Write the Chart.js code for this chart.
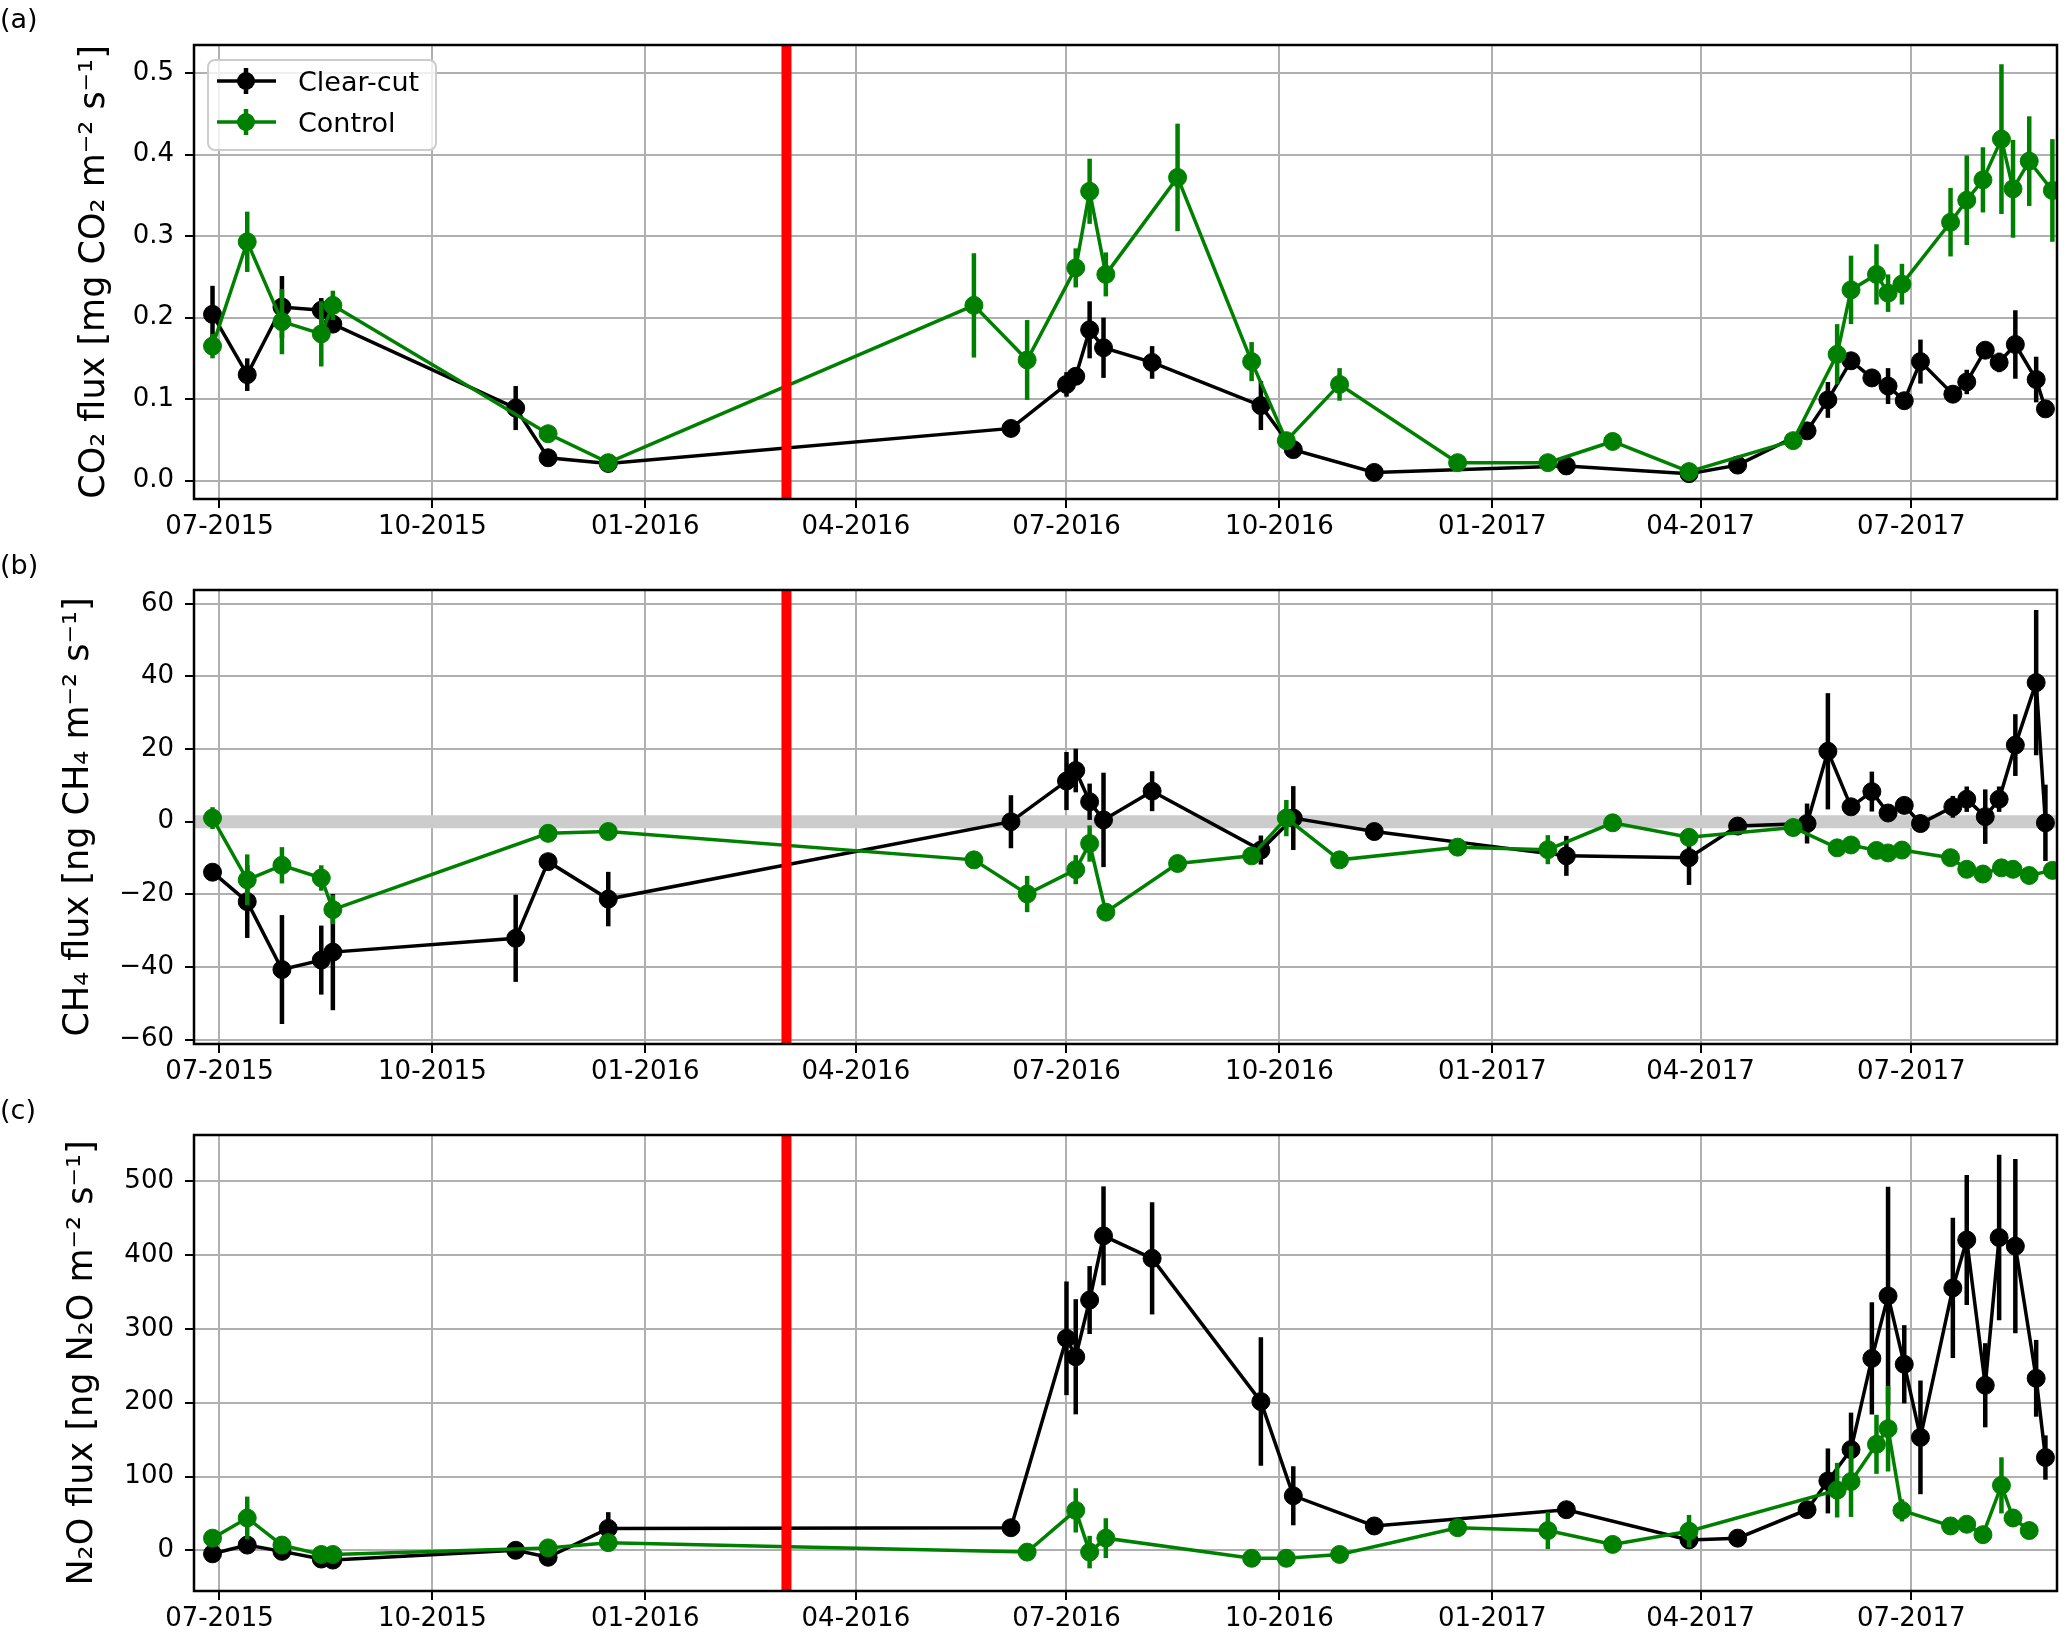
<!DOCTYPE html>
<html>
<head>
<meta charset="utf-8">
<script src="https://cdn.jsdelivr.net/npm/chart.js@4.4.0/dist/chart.umd.min.js"></script>
<style>
    body { margin: 0; background: #ffffff; }
    #wrap { position: relative; width: 2067px; height: 1633px; }
    canvas { position: absolute; left: 0; }
</style>
</head>
<body>
<div id="wrap">
    <canvas id="panel-a" width="2067" height="545" style="top:0px"></canvas>
    <canvas id="panel-b" width="2067" height="545" style="top:545px"></canvas>
    <canvas id="panel-c" width="2067" height="543" style="top:1090px"></canvas>
</div>
<script>
/*
 *  Data
 */

const xTickDates = ['2015-07-01', '2015-10-01', '2016-01-01', '2016-04-01', '2016-07-01',
    '2016-10-01', '2017-01-01', '2017-04-01', '2017-07-01'];
const xTickLabels = ['07-2015', '10-2015', '01-2016', '04-2016', '07-2016',
    '10-2016', '01-2017', '04-2017', '07-2017'];
const harvestDate = '2016-03-02';

const clearCutDates = ['2015-06-28', '2015-07-13', '2015-07-28', '2015-08-14', '2015-08-19', '2015-11-06',
    '2015-11-20', '2015-12-16', '2016-06-07', '2016-07-01', '2016-07-05', '2016-07-11', '2016-07-17',
    '2016-08-07', '2016-09-23', '2016-10-07', '2016-11-11', '2017-02-02', '2017-03-27', '2017-04-17',
    '2017-05-17', '2017-05-26', '2017-06-05', '2017-06-14', '2017-06-21', '2017-06-28', '2017-07-05',
    '2017-07-19', '2017-07-25', '2017-08-02', '2017-08-08', '2017-08-15', '2017-08-24', '2017-08-28'];
const controlDates = ['2015-06-28', '2015-07-13', '2015-07-28', '2015-08-14', '2015-08-19', '2015-11-20',
    '2015-12-16', '2016-05-22', '2016-06-14', '2016-07-05', '2016-07-11', '2016-07-18', '2016-08-18',
    '2016-09-19', '2016-10-04', '2016-10-27', '2016-12-17', '2017-01-25', '2017-02-22', '2017-03-27',
    '2017-05-11', '2017-05-30', '2017-06-05', '2017-06-16', '2017-06-21', '2017-06-27', '2017-07-18',
    '2017-07-25', '2017-08-01', '2017-08-09', '2017-08-14', '2017-08-21', '2017-08-31'];

// (a) CO2
const co2ClearCut = [0.204, 0.130, 0.213, 0.209, 0.192, 0.089, 0.028, 0.021, 0.064, 0.118, 0.128, 0.185,
    0.163, 0.145, 0.092, 0.038, 0.010, 0.018, 0.0085, 0.019, 0.061, 0.099, 0.147, 0.126, 0.116, 0.098,
    0.146, 0.106, 0.121, 0.160, 0.145, 0.167, 0.124, 0.088];
const co2ClearCutErr = [0.035, 0.02, 0.038, 0.015, 0.01, 0.027, 0.005, 0.005, 0.005, 0.015, 0.01, 0.035,
    0.037, 0.02, 0.03, 0.005, 0.003, 0.004, 0.004, 0.004, 0.005, 0.022, 0.008, 0.01, 0.022, 0.008,
    0.027, 0.008, 0.015, 0.01, 0.012, 0.042, 0.028, 0.008];
const co2Control = [0.165, 0.293, 0.195, 0.180, 0.215, 0.0575, 0.022, 0.215, 0.148, 0.261, 0.355, 0.253,
    0.372, 0.146, 0.049, 0.118, 0.022, 0.022, 0.048, 0.011, 0.049, 0.155, 0.234, 0.253, 0.230, 0.241,
    0.317, 0.344, 0.369, 0.419, 0.358, 0.392, 0.356];
const co2ControlErr = [0.015, 0.037, 0.04, 0.04, 0.018, 0.004, 0.004, 0.064, 0.049, 0.024, 0.04, 0.027,
    0.066, 0.024, 0.005, 0.02, 0.004, 0.004, 0.004, 0.004, 0.005, 0.037, 0.042, 0.037, 0.023, 0.025,
    0.042, 0.055, 0.04, 0.092, 0.06, 0.055, 0.063];

// (b) CH4
const ch4ClearCut = [-13.9, -22.0, -40.7, -38.1, -35.9, -32.1, -11.0, -21.3, 0.0, 11.2, 14.1, 5.5, 0.5,
    8.4, -7.8, 1.0, -2.7, -9.4, -9.9, -1.2, -0.5, 19.4, 4.1, 8.3, 2.4, 4.5, -0.5, 4.1, 6.2, 1.4, 6.2,
    21.1, 38.3, -0.3];
const ch4ClearCutErr = [2, 10, 15, 9.5, 16, 12, 2, 7.5, 7.3, 8, 6, 5, 13, 5.5, 4, 8.8, 1, 5.5, 7.5, 1,
    5.5, 16, 1, 5.5, 1.5, 1.5, 1, 3, 3.5, 7.5, 3.5, 8.5, 20, 10.5];
const ch4Control = [1.0, -16.0, -12.0, -15.5, -24.2, -3.2, -2.7, -10.5, -19.9, -13.2, -6.0, -24.9,
    -11.5, -9.4, 1.0, -10.5, -7.0, -7.7, -0.3, -4.3, -1.6, -7.2, -6.4, -7.9, -8.6, -7.8, -9.9, -13.1,
    -14.4, -12.7, -13.1, -14.8, -13.4];
const ch4ControlErr = [3, 7, 5, 3.5, 4, 1, 1, 1, 5, 4, 5, 2, 1, 1.5, 5, 1, 1, 4, 1, 1, 1, 1, 1, 1, 1, 1,
    1, 1, 1, 1, 1, 1, 1];

// (c) N2O
const n2oClearCut = [-4.7, 7.1, -1.4, -11.8, -13.2, 0.0, -9.4, 29.7, 30.6, 287.2, 262.2, 339, 426,
    395.5, 201.5, 73.9, 33, 55, 14.1, 16.5, 55, 94, 136.5, 260, 344.6, 252, 153, 355.5, 420.4, 223.6,
    423.7, 412, 233, 125.7];
const n2oClearCutErr = [3, 3, 3, 3, 3, 3, 3, 22, 3, 77, 78, 46, 67, 76, 87, 40, 3, 4, 3, 3, 8, 44, 50,
    76, 148, 53, 77, 95, 88, 57, 112, 118, 52, 30];
const n2oControl = [16.5, 43.8, 7.1, -5.6, -5.6, 3.3, 10.4, null, -2.4, 54.1, -2.4, 16.5, null, -10.8,
    -10.8, -5.6, 30.6, 26.8, 8, 25.9, null, 81.5, 93.2, 143.6, 164.8, 54.1, 33, 35.3, 21.2, 88, 43.8,
    26.8, null];
const n2oControlErr = [10, 29, 5, 3, 3, 3, 3, 0, 3, 30, 22, 27, 0, 3, 8, 3, 3, 25, 3, 22, 0, 37, 48,
    40, 58, 15, 3, 3, 3, 38, 12, 3, 0];

const yTicksA = [0, 0.1, 0.2, 0.3, 0.4, 0.5];
const yTicksB = [-60, -40, -20, 0, 20, 40, 60];
const yTicksC = [0, 100, 200, 300, 400, 500];

/*
 *  Helpers
 */

const FONT = 'DejaVu Sans';
const GREEN = '#008000';

function dayOf(s)
{
    const p = s.split('-').map(Number);
    return (Date.UTC(p[0], p[1] - 1, p[2]) - Date.UTC(2015, 6, 1)) / 86400000;
}

function toPoints(dates, values)
{
    return dates.map((d, i) => ({x: dayOf(d), y: values[i]}));
}

function numLabel(v, digits)
{
    let s = digits ? v.toFixed(digits) : String(v);
    return v < 0 ? '\u2212' + s.slice(1) : s;
}

/*
 *  Plugin: error bars, zero line, harvest line, frame, legend, panel letter
 */

const decoPlugin = {
    id: 'deco',
    beforeDatasetsDraw(chart, args, opts) {
        const ctx = chart.ctx, area = chart.chartArea, y = chart.scales.y;
        if (opts.zeroLine) {
            ctx.save();
            ctx.beginPath();
            ctx.rect(area.left, area.top, area.right - area.left, area.bottom - area.top);
            ctx.clip();
            ctx.strokeStyle = '#cccccc';
            ctx.lineWidth = 13;
            const py = y.getPixelForValue(0);
            ctx.beginPath();
            ctx.moveTo(area.left, py);
            ctx.lineTo(area.right, py);
            ctx.stroke();
            ctx.restore();
        }
    },
    beforeDatasetDraw(chart, args) {
        const ds = chart.data.datasets[args.index];
        const ctx = chart.ctx, area = chart.chartArea;
        const xs = chart.scales.x, ys = chart.scales.y;
        ctx.save();
        ctx.beginPath();
        ctx.rect(area.left, area.top, area.right - area.left, area.bottom - area.top);
        ctx.clip();
        ctx.strokeStyle = ds.borderColor;
        ctx.lineWidth = 4.5;
        ds.data.forEach((p, i) => {
            const e = ds.errors[i];
            if (p.y === null || !e) return;
            const px = xs.getPixelForValue(p.x);
            ctx.beginPath();
            ctx.moveTo(px, ys.getPixelForValue(p.y - e));
            ctx.lineTo(px, ys.getPixelForValue(p.y + e));
            ctx.stroke();
        });
        ctx.restore();
    },
    afterDatasetsDraw(chart) {
        const ctx = chart.ctx, area = chart.chartArea;
        const px = chart.scales.x.getPixelForValue(dayOf(harvestDate));
        ctx.save();
        ctx.strokeStyle = '#ff0000';
        ctx.lineWidth = 10;
        ctx.beginPath();
        ctx.moveTo(px, area.top);
        ctx.lineTo(px, area.bottom);
        ctx.stroke();
        ctx.restore();
    },
    afterDraw(chart, args, opts) {
        const ctx = chart.ctx, area = chart.chartArea;
        ctx.save();
        ctx.strokeStyle = '#000000';
        ctx.lineWidth = 2.5;
        ctx.strokeRect(area.left, area.top, area.right - area.left, area.bottom - area.top);

        ctx.fillStyle = '#000000';
        ctx.font = '27px "' + FONT + '"';
        ctx.textBaseline = 'alphabetic';
        ctx.textAlign = 'left';
        ctx.fillText(opts.letter, 0, opts.letterY);

        if (opts.legend) {
            ctx.beginPath();
            ctx.roundRect(208, 60, 228, 90, 7);
            ctx.fillStyle = 'rgba(255,255,255,0.8)';
            ctx.fill();
            ctx.strokeStyle = '#cccccc';
            ctx.lineWidth = 2;
            ctx.stroke();
            chart.data.datasets.forEach((ds, i) => {
                const cy = 81 + i * 41;
                ctx.strokeStyle = ds.borderColor;
                ctx.fillStyle = ds.borderColor;
                ctx.lineWidth = 3.5;
                ctx.beginPath();
                ctx.moveTo(217, cy);
                ctx.lineTo(276, cy);
                ctx.stroke();
                ctx.lineWidth = 4.5;
                ctx.beginPath();
                ctx.moveTo(246, cy - 13);
                ctx.lineTo(246, cy + 13);
                ctx.stroke();
                ctx.beginPath();
                ctx.arc(246, cy, 9, 0, Math.PI * 2);
                ctx.fill();
                ctx.fillStyle = '#000000';
                ctx.fillText(ds.label, 298, cy + 10);
            });
        }
        ctx.restore();
    }
};

/*
 *  Panels
 */

function seriesSet(ccValues, ccErr, ctValues, ctErr)
{
    const common = {
        borderWidth: 3.5,
        pointRadius: 9,
        pointHoverRadius: 9,
        pointBorderWidth: 1,
        tension: 0,
        spanGaps: true,
        clip: 0,
        fill: false
    };
    return [
        Object.assign({
            label: 'Clear-cut',
            data: toPoints(clearCutDates, ccValues),
            errors: ccErr,
            borderColor: '#000000',
            backgroundColor: '#000000',
            pointBackgroundColor: '#000000',
            order: 1
        }, common),
        Object.assign({
            label: 'Control',
            data: toPoints(controlDates, ctValues),
            errors: ctErr,
            borderColor: GREEN,
            backgroundColor: GREEN,
            pointBackgroundColor: GREEN,
            order: 0
        }, common)
    ];
}

function makePanel(id, p)
{
    const xTickDays = xTickDates.map(dayOf);
    return new Chart(document.getElementById(id).getContext('2d'), {
        type: 'line',
        data: {datasets: p.datasets},
        options: {
            responsive: false,
            animation: false,
            devicePixelRatio: 1,
            layout: {padding: {top: 45, right: 3, bottom: 0, left: 0}},
            plugins: {
                legend: {display: false},
                tooltip: {enabled: false},
                deco: {letter: p.letter, letterY: p.letterY, legend: p.legend, zeroLine: p.zeroLine}
            },
            scales: {
                x: {
                    type: 'linear',
                    min: dayOf('2015-06-20'),
                    max: dayOf('2017-09-02'),
                    afterBuildTicks: (s) => { s.ticks = xTickDays.map(v => ({value: v})); },
                    afterFit: (s) => { s.height = p.xHeight; },
                    ticks: {
                        autoSkip: false,
                        maxRotation: 0,
                        padding: 4,
                        color: '#000000',
                        font: {family: FONT, size: 26},
                        callback: (v, i) => xTickLabels[i]
                    },
                    grid: {color: '#b0b0b0', lineWidth: 2, tickLength: 9, tickColor: '#000000', tickWidth: 2},
                    border: {display: false}
                },
                y: {
                    type: 'linear',
                    min: p.yMin,
                    max: p.yMax,
                    afterBuildTicks: (s) => { s.ticks = p.yTicks.map(v => ({value: v})); },
                    afterFit: (s) => { s.width = 194; },
                    ticks: {
                        padding: 11,
                        color: '#000000',
                        font: {family: FONT, size: 26},
                        callback: (v) => numLabel(v, p.digits)
                    },
                    grid: {color: '#b0b0b0', lineWidth: 2, tickLength: 9, tickColor: '#000000', tickWidth: 2},
                    border: {display: false},
                    title: {
                        display: true,
                        text: p.title,
                        color: '#000000',
                        font: {family: FONT, size: 35},
                        padding: {top: p.titlePad, bottom: 0}
                    }
                }
            }
        },
        plugins: [decoPlugin]
    });
}

makePanel('panel-a', {
    datasets: seriesSet(co2ClearCut, co2ClearCutErr, co2Control, co2ControlErr),
    title: 'CO\u2082 flux [mg CO\u2082 m\u207B\u00B2 s\u207B\u00B9]',
    titlePad: 74,
    yMin: -0.0226, yMax: 0.5345, yTicks: yTicksA, digits: 1,
    letter: '(a)', letterY: 28, legend: true, zeroLine: false, xHeight: 46
});

makePanel('panel-b', {
    datasets: seriesSet(ch4ClearCut, ch4ClearCutErr, ch4Control, ch4ControlErr),
    title: 'CH\u2084 flux [ng CH\u2084 m\u207B\u00B2 s\u207B\u00B9]',
    titlePad: 58,
    yMin: -61.2, yMax: 63.8, yTicks: yTicksB, digits: 0,
    letter: '(b)', letterY: 29, legend: false, zeroLine: true, xHeight: 46
});

makePanel('panel-c', {
    datasets: seriesSet(n2oClearCut, n2oClearCutErr, n2oControl, n2oControlErr),
    title: 'N\u2082O flux [ng N\u2082O m\u207B\u00B2 s\u207B\u00B9]',
    titlePad: 62,
    yMin: -55.1, yMax: 562.6, yTicks: yTicksC, digits: 0,
    letter: '(c)', letterY: 29, legend: false, zeroLine: false, xHeight: 42
});
</script>
</body>
</html>
